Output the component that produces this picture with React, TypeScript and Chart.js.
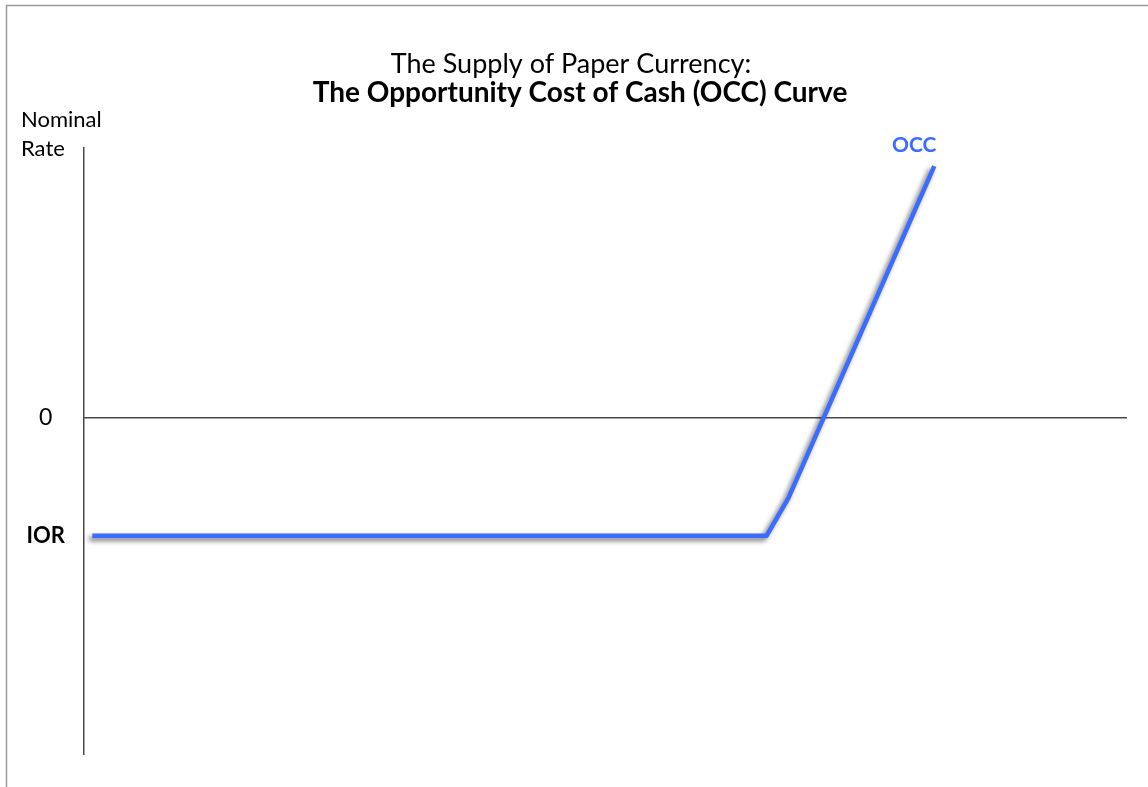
import React, { useEffect, useRef } from "react";
import { Chart, registerables } from "chart.js";

Chart.register(...registerables);

// ---- data ----
const IOR = -1.76;
const occX = [0.8, 65.5, 67.6, 81.6];
const occY = [IOR, IOR, -1.2, 3.73];
const yTickValues = [IOR, 0];
const yTickLabels = ["IOR", "0"];
const titleLine1 = "The Supply of Paper Currency:";
const titleLine2 = "The Opportunity Cost of Cash (OCC) Curve";
const yAxisLabel = ["Nominal", "Rate"];
const seriesLabel = "OCC";

const FONT = "Lato, 'Open Sans', sans-serif";
const BLUE = "#3c6cff";

export default function App() {
  const ref = useRef<HTMLCanvasElement | null>(null);

  useEffect(() => {
    document.body.style.margin = "0";
    document.body.style.overflow = "hidden";
    const canvas = ref.current;
    if (!canvas) return;

    const decor = {
      id: "decor",
      beforeDraw(chart: any) {
        const ctx = chart.ctx;
        ctx.save();
        ctx.fillStyle = "#ffffff";
        ctx.fillRect(0, 0, chart.width, chart.height);
        ctx.strokeStyle = "#9a9a9a";
        ctx.lineWidth = 1.5;
        ctx.beginPath();
        ctx.moveTo(6.5, chart.height);
        ctx.lineTo(6.5, 5.5);
        ctx.lineTo(chart.width, 5.5);
        ctx.stroke();
        ctx.restore();
      },
      afterDraw(chart: any) {
        const ctx = chart.ctx;
        ctx.save();
        ctx.fillStyle = "#000";
        ctx.textBaseline = "alphabetic";
        ctx.textAlign = "center";
        ctx.font = `27px ${FONT}`;
        ctx.fillText(titleLine1, 571, 73);
        ctx.font = `bold 28px ${FONT}`;
        ctx.fillText(titleLine2, 580, 102);
        ctx.textAlign = "left";
        ctx.font = `22px ${FONT}`;
        ctx.fillText(yAxisLabel[0], 21, 127);
        ctx.fillText(yAxisLabel[1], 21, 156);
        // series label near the end of the curve
        const xs = chart.scales.x;
        const last = occX.length - 1;
        const px = xs.getPixelForValue(occX[last]);
        ctx.textAlign = "center";
        ctx.fillStyle = BLUE;
        ctx.font = `bold 21px ${FONT}`;
        ctx.fillText(seriesLabel, px - 20, 152);
        ctx.restore();
      },
      beforeDatasetDraw(chart: any) {
        const ctx = chart.ctx;
        ctx.save();
        ctx.shadowColor = "rgba(0,0,0,0.55)";
        ctx.shadowBlur = 5;
        ctx.shadowOffsetX = -3;
        ctx.shadowOffsetY = 3;
      },
      afterDatasetDraw(chart: any) {
        chart.ctx.restore();
      },
    };

    const chart = new Chart(canvas, {
      type: "line",
      data: {
        datasets: [
          {
            label: seriesLabel,
            data: occX.map((x, i) => ({ x, y: occY[i] })),
            borderColor: BLUE,
            borderWidth: 4.5,
            pointRadius: 0,
            tension: 0,
            borderJoinStyle: "round",
            borderCapStyle: "butt",
            fill: false,
          },
        ],
      },
      options: {
        animation: false,
        responsive: false,
        devicePixelRatio: 1,
        layout: { padding: { top: 148, bottom: 33, left: 0, right: 22 } },
        plugins: {
          legend: { display: false },
          title: { display: false },
          tooltip: { enabled: false },
        },
        scales: {
          x: {
            type: "linear",
            min: 0,
            max: 100,
            position: { y: 0 } as any,
            ticks: { display: false },
            grid: { display: false, drawTicks: false },
            border: { display: true, color: "#4a4a4a", width: 1.5 },
          },
          y: {
            type: "linear",
            min: -5,
            max: 4,
            position: "left",
            afterBuildTicks: (s: any) => {
              s.ticks = yTickValues.map((v) => ({ value: v }));
            },
            afterFit: (s: any) => {
              s.width = 84;
              s.paddingTop = 0;
              s.paddingBottom = 0;
            },
            ticks: {
              crossAlign: "center",
              padding: 19,
              color: "#000",
              autoSkip: false,
              callback: (v: any) => {
                const i = yTickValues.indexOf(Number(v));
                return i >= 0 ? yTickLabels[i] : "";
              },
              font: (c: any) =>
                c.tick && c.tick.value === IOR
                  ? { family: FONT, size: 22, weight: "bold" }
                  : { family: FONT, size: 23, weight: "normal" },
            },
            grid: { display: false, drawTicks: false },
            border: { display: true, color: "#4a4a4a", width: 1.5 },
          },
        },
      },
      plugins: [decor],
    });

    return () => chart.destroy();
  }, []);

  return (
    <div style={{ position: "absolute", left: 0, top: 0, width: 1148, height: 787 }}>
      <canvas ref={ref} width={1148} height={787} style={{ display: "block" }} />
    </div>
  );
}
